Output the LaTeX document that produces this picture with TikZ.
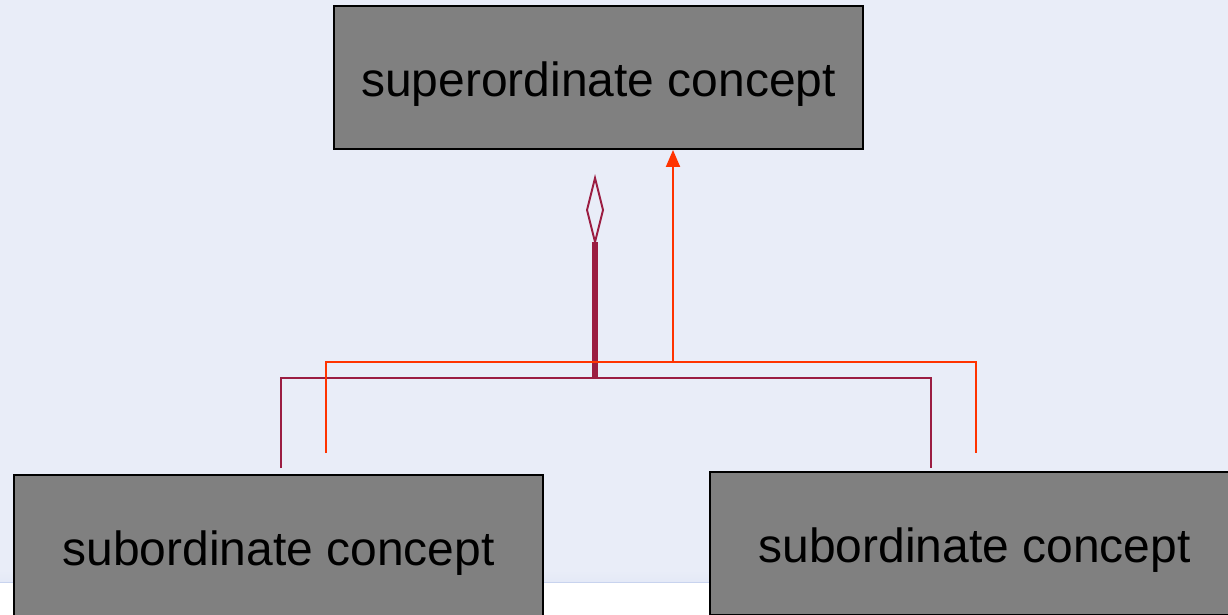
\documentclass[tikz,border=0pt]{standalone}
\usepackage{fontspec}
\setmainfont{Liberation Sans}
\usetikzlibrary{arrows.meta,positioning,calc}
\definecolor{Page}{HTML}{E9EDF8}
\definecolor{PageEdge}{HTML}{C8D3EE}
\definecolor{Box}{HTML}{808080}
\definecolor{Aggr}{HTML}{9B1D42}
\definecolor{Gen}{HTML}{FF3300}

\begin{document}
\begin{tikzpicture}[x=0.02cm,y=-0.02cm,>=Latex,
  concept/.style={draw=black,line width=1.1pt,fill=Box,minimum width=529*0.02cm,minimum height=143*0.02cm,font=\fontsize{27.3}{32}\selectfont,inner sep=0pt,text height=22pt,text depth=0pt},
  aggr/.style={draw=Aggr,line width=1.1pt},
  gen/.style={draw=Gen,line width=1.1pt}]
  \useasboundingbox (0,0) rectangle (1228,615);
  \clip (0,0) rectangle (1228,615);
  % page background
  \fill[white] (0,0) rectangle (1228,615);
  \fill[Page] (0,0) rectangle (1228,570);
  \shade[top color=Page,bottom color=Page!85!PageEdge] (0,570) rectangle (1228,582);
  \draw[PageEdge,line width=1pt] (0,582.5) -- (1228,582.5);
  % concepts
  \node[concept] (super) at (598.5,77.5) {superordinate concept};
  \node[concept] (subL) at (278.5,546.5) {subordinate concept};
  \node[concept] (subR) at (974.5,543.5) {subordinate concept};
  % aggregation
  \coordinate (aL) at (281,468);
  \coordinate (aR) at (931,468);
  \coordinate (aHub) at (595,378);
  \coordinate (aBase) at (595,242);
  \coordinate (aTop) at (595,178);
  \draw[aggr] (aL) |- (aHub) -| (aR);
  \draw[Aggr,line width=3.6pt] (aHub) -- (aBase);
  \draw[aggr,line join=miter] (aBase) -- ++(8,-32) -- (aTop) -- ++(-8,32) -- cycle;
  % generalization
  \coordinate (gL) at (326,453);
  \coordinate (gR) at (976,453);
  \coordinate (gHub) at (673,362);
  \draw[gen] (gL) |- (gHub) -| (gR);
  \draw[gen,-{Triangle[length=17*0.02cm,width=14*0.02cm]}] (gHub) -- (gHub |- super.south);
\end{tikzpicture}
\end{document}
